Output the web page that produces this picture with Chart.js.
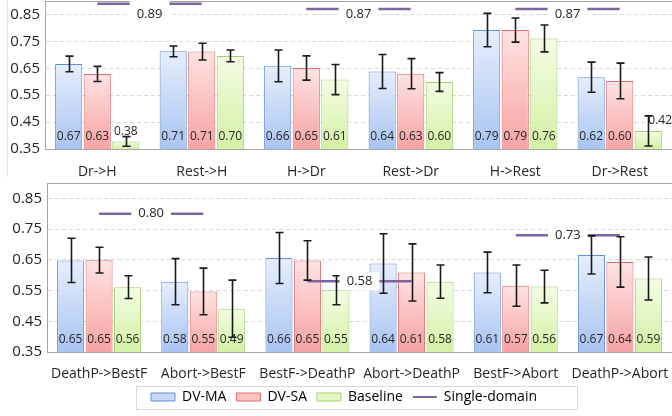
<!DOCTYPE html>
<html>
<head>
<meta charset="utf-8">
<script src="https://cdn.jsdelivr.net/npm/chart.js@4.4.1/dist/chart.umd.min.js"></script>
<style>
  html, body { margin: 0; padding: 0; background: #fff; }
  body { width: 672px; height: 416px; position: relative; overflow: hidden; }
  .panel { position: absolute; left: 0; width: 672px; }
  #topWrap { top: 0; height: 180px; }
  #botWrap { top: 180px; height: 236px; }
  #frame { position: absolute; left: 7px; top: 0; height: 177px; border-left: 1px solid #e4e4e4; }
</style>
</head>
<body>
<div id="frame"></div>
<div class="panel" id="topWrap"><canvas id="topChart" width="672" height="180"></canvas></div>
<div class="panel" id="botWrap"><canvas id="botChart" width="672" height="236"></canvas></div>

<script>
/* ── data ─────────────────────────────── */
const seriesNames = ['DV-MA', 'DV-SA', 'Baseline', 'Single-domain'];
const yTicks      = [0.35, 0.45, 0.55, 0.65, 0.75, 0.85];

const topCats   = ['Dr->H', 'Rest->H', 'H->Dr', 'Rest->Dr', 'H->Rest', 'Dr->Rest'];
const topMA     = [0.666, 0.713, 0.659, 0.638, 0.792, 0.617];
const topSA     = [0.629, 0.712, 0.651, 0.630, 0.792, 0.603];
const topBase   = [0.378, 0.696, 0.608, 0.599, 0.761, 0.417];
const topMAErr  = [0.029, 0.020, 0.059, 0.063, 0.062, 0.056];
const topSAErr  = [0.028, 0.031, 0.045, 0.056, 0.045, 0.066];
const topBaseErr= [0.018, 0.022, 0.056, 0.035, 0.050, 0.056];
const topSingle = [0.89, 0.87, 0.87];   // one value per pair of categories

const botCats   = ['DeathP->BestF', 'Abort->BestF', 'BestF->DeathP', 'Abort->DeathP', 'BestF->Abort', 'DeathP->Abort'];
const botMA     = [0.648, 0.579, 0.656, 0.638, 0.609, 0.666];
const botSA     = [0.649, 0.547, 0.648, 0.609, 0.566, 0.643];
const botBase   = [0.561, 0.491, 0.551, 0.579, 0.563, 0.589];
const botMAErr  = [0.072, 0.075, 0.083, 0.097, 0.066, 0.062];
const botSAErr  = [0.042, 0.076, 0.064, 0.093, 0.067, 0.082];
const botBaseErr= [0.037, 0.093, 0.047, 0.054, 0.053, 0.070];
const botSingle = [0.80, 0.58, 0.73];

/* ── styles ───────────────────────────── */
const FONT   = "'Open Sans', sans-serif";
const INK    = '#262626';
const PURPLE = '#8064a2';
const fills  = [
  { top: '#e6eefc', bottom: '#a8c4f1', border: '#6190d6', swatch: '#c6d8f7' },
  { top: '#ffe3e3', bottom: '#f6a3a3', border: '#e06b6b', swatch: '#fbc3c3' },
  { top: '#f4fde4', bottom: '#d3f0a4', border: '#a3d06c', swatch: '#e4f7c6' }
];

Chart.defaults.font.family = FONT;
Chart.defaults.color = INK;

function barFill(f) {
  return c => {
    const chart = c.chart, area = chart.chartArea;
    if (!area || c.type !== 'data' || c.raw == null) return f.swatch;
    const top = chart.scales.y.getPixelForValue(c.raw);
    const g = chart.ctx.createLinearGradient(0, top, 0, area.bottom);
    g.addColorStop(0, f.top);
    g.addColorStop(1, f.bottom);
    return g;
  };
}

function buildDatasets(series, errs, single, cats) {
  const ds = series.map((vals, k) => ({
    type: 'bar',
    label: seriesNames[k],
    data: vals,
    errors: errs[k],
    backgroundColor: barFill(fills[k]),
    borderColor: fills[k].border,
    borderWidth: 1,
    borderSkipped: false,
    categoryPercentage: 0.82,
    barPercentage: 0.95,
    order: 1
  }));
  single.forEach((v, k) => {
    ds.push({
      type: 'line',
      label: seriesNames[3],
      data: cats.map((_, i) => Math.floor(i / 2) === k ? v : null),
      single: v,
      borderColor: PURPLE,
      borderWidth: 2.5,
      pointRadius: 0,
      fill: false,
      spanGaps: false,
      order: 0
    });
  });
  return ds;
}

// error bars, value labels, single-domain labels, plot frame
const decoPlugin = {
  id: 'deco',
  beforeDatasetsDraw(chart) {
    const { ctx, chartArea: a } = chart;
    ctx.save();
    ctx.strokeStyle = '#a6a6a6';
    ctx.lineWidth = 1;
    ctx.strokeRect(a.left + 0.5, a.top + 0.5, a.right - a.left, a.bottom - a.top);
    ctx.restore();
  },
  afterDatasetsDraw(chart) {
    const { ctx, chartArea: a } = chart;
    const y = chart.scales.y;
    ctx.save();

    // value labels
    ctx.font = '12px ' + FONT;
    ctx.fillStyle = INK;
    ctx.textBaseline = 'middle';
    chart.data.datasets.forEach((ds, d) => {
      if (ds.type !== 'bar') return;
      chart.getDatasetMeta(d).data.forEach((bar, i) => {
        const txt = ds.data[i].toFixed(2);
        if (a.bottom - bar.y < 20) {
          const last = i === ds.data.length - 1;
          ctx.textAlign = last ? 'left' : 'center';
          ctx.fillText(txt, bar.x, bar.y - 10);
        } else {
          ctx.textAlign = 'center';
          ctx.fillText(txt, bar.x, a.bottom - 12);
        }
      });
    });

    // error bars
    ctx.strokeStyle = '#1a1a1a';
    ctx.lineWidth = 1.6;
    chart.data.datasets.forEach((ds, d) => {
      if (ds.type !== 'bar') return;
      chart.getDatasetMeta(d).data.forEach((bar, i) => {
        const hi = y.getPixelForValue(ds.data[i] + ds.errors[i]);
        const lo = y.getPixelForValue(ds.data[i] - ds.errors[i]);
        const x = Math.round(bar.x) + 0.5;
        ctx.beginPath();
        ctx.moveTo(x, hi); ctx.lineTo(x, lo);
        ctx.moveTo(x - 4, hi); ctx.lineTo(x + 4, hi);
        ctx.moveTo(x - 4, lo); ctx.lineTo(x + 4, lo);
        ctx.stroke();
      });
    });

    // single-domain labels
    ctx.font = '13px ' + FONT;
    ctx.textAlign = 'center';
    chart.data.datasets.forEach((ds, d) => {
      if (ds.type !== 'line') return;
      const pts = chart.getDatasetMeta(d).data.filter((p, i) => ds.data[i] != null);
      const xm = (pts[0].x + pts[1].x) / 2;
      const ly = pts[0].y;
      const ty = Math.max(ly, a.top + 13);
      const txt = ds.single.toFixed(2);
      const w = ctx.measureText(txt).width + 14;
      const top = Math.min(ty - 9, ly - 3);
      ctx.fillStyle = '#fff';
      ctx.fillRect(xm - w / 2, top, w, ty + 9 - top);
      ctx.fillStyle = INK;
      ctx.fillText(txt, xm, ty);
    });
    ctx.restore();
  }
};

// legend sits a bit right of centre, inside a light box
const legendBox = {
  id: 'legendBox',
  afterLayout(chart) {
    const lg = chart.legend;
    if (!lg) return;
    lg.left += 8;
    lg.right += 8;
  },
  afterDraw(chart) {
    const lg = chart.legend;
    if (!lg || !lg.legendHitBoxes.length) return;
    const hb = lg.legendHitBoxes;
    const left = hb[0].left - 15;
    const right = hb[hb.length - 1].left + hb[hb.length - 1].width + 40;
    const cy = hb[0].top + hb[0].height / 2;
    const { ctx } = chart;
    ctx.save();
    ctx.strokeStyle = '#d9d9d9';
    ctx.lineWidth = 1;
    ctx.strokeRect(Math.round(left) + 0.5, Math.round(cy - 11) + 0.5, Math.round(right - left), 23);
    ctx.restore();
  }
};

function makeChart(id, cats, datasets, opts) {
  return new Chart(document.getElementById(id), {
    data: { labels: cats, datasets },
    options: {
      responsive: false,
      animation: false,
      layout: { padding: opts.padding },
      plugins: {
        tooltip: { enabled: false },
        legend: opts.legend
      },
      scales: {
        x: {
          offset: true,
          grid: { display: false, drawTicks: false },
          border: { color: '#a6a6a6' },
          ticks: { font: { size: 14 }, color: INK, padding: opts.xPad, maxRotation: 0, autoSkip: false },
          afterFit: s => { s.height = opts.xHeight; s.paddingLeft = 0; s.paddingRight = 0; }
        },
        y: {
          min: 0.35, max: 0.9,
          grid: { color: '#d9d9d9', drawTicks: false },
          border: { color: '#a6a6a6', dash: [4, 3] },
          ticks: { font: { size: 15 }, color: INK, padding: 5, callback: v => v.toFixed(2) },
          afterBuildTicks: s => { s.ticks = yTicks.map(v => ({ value: v })); },
          afterFit: s => { s.width = opts.yWidth; s.paddingTop = 0; s.paddingBottom = 0; }
        }
      }
    },
    plugins: opts.plugins
  });
}

makeChart('topChart', topCats,
  buildDatasets([topMA, topSA, topBase], [topMAErr, topSAErr, topBaseErr], topSingle, topCats),
  { padding: { top: 1, left: 0, right: 0, bottom: 0 }, legend: { display: false },
    xPad: 15, xHeight: 31, yWidth: 45, plugins: [decoPlugin] });

makeChart('botChart', botCats,
  buildDatasets([botMA, botSA, botBase], [botMAErr, botSAErr, botBaseErr], botSingle, botCats),
  { padding: { top: 3, left: 0, right: 0, bottom: 2 },
    legend: {
      position: 'bottom',
      labels: {
        font: { size: 14 }, color: INK, padding: 10,
        usePointStyle: true, pointStyleWidth: 24, boxHeight: 8,
        generateLabels: () => [
          ...fills.map((f, k) => ({ text: seriesNames[k], fillStyle: f.swatch, strokeStyle: f.border,
                                    lineWidth: 1, pointStyle: 'rect', datasetIndex: k })),
          { text: seriesNames[3], fillStyle: PURPLE, strokeStyle: PURPLE, lineWidth: 2, pointStyle: 'line', datasetIndex: 3 }
        ]
      }
    },
    xPad: 14, xHeight: 28, yWidth: 47, plugins: [decoPlugin, legendBox] });
</script>
</body>
</html>
